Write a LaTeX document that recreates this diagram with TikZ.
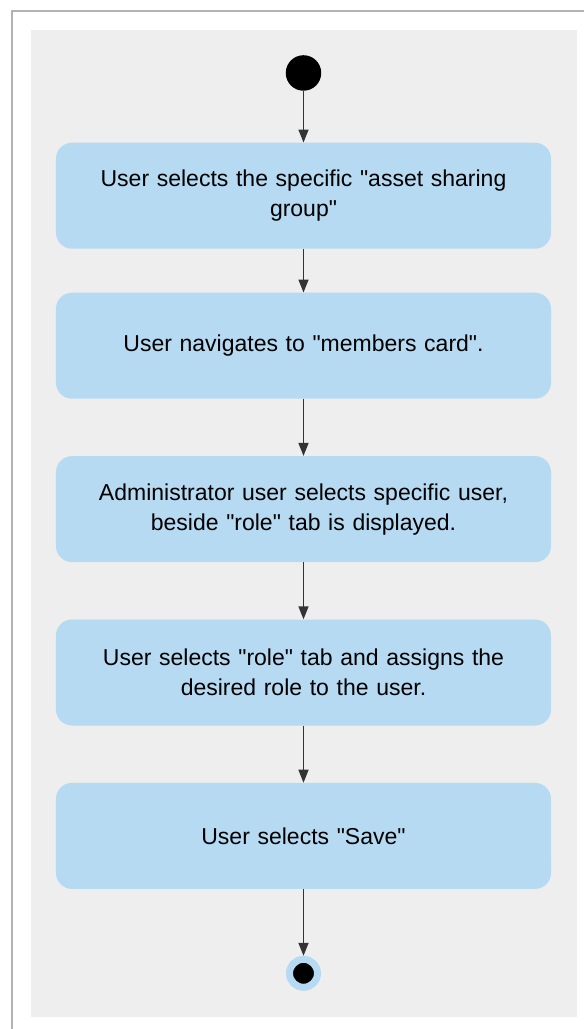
\documentclass[tikz,border=0pt]{standalone}
\usepackage{fontspec}
\setmainfont{Liberation Sans}[Ligatures=TeXOff]
\usetikzlibrary{matrix,arrows.meta,positioning}
\definecolor{actblue}{HTML}{B5DAF2}
\definecolor{lanegrey}{HTML}{EEEEEE}
\definecolor{flowgrey}{HTML}{333333}

\begin{document}
\begin{tikzpicture}[x=1pt,y=1pt,
				act boxes/.style={draw=none, rectangle,%
                fill=actblue, rounded corners=16pt,
                minimum height=106pt, minimum width=495pt,
                text width=460pt, inner sep=0pt, text=black,
                anchor=center, align=center,
                font=\fontsize{23}{30}\selectfont},
    			% Define styles for the start and end dots
   				start dot/.style={circle, fill=black, minimum size=35.5pt, inner sep=0pt, anchor=center},
    			end dot/.style={circle, fill=black, draw=actblue, line width=7pt, minimum size=28pt, inner sep=0pt, anchor=center},
    			flow/.style={draw=flowgrey, line width=1.5pt, -{Triangle[length=13pt,width=10pt]}}
    			]
\useasboundingbox (0,0) rectangle (584,-1029);

%% Frame and grey panel
\fill[black!30] (10.5,-10) rectangle (600,-1040);
\fill[white] (12.5,-11.5) rectangle (600,-1040);
\fill[lanegrey] (31,-30) rectangle (577,-1016.5);

  \matrix (mat) [matrix of nodes, row sep=57.4pt, inner sep=0pt, anchor=north] at (303.5,-55)
  {
    |[start dot]| {} \\[-5.4pt]
    |[act boxes]| {User selects the specific "asset sharing\\group"} \\[-13.4pt]
    |[act boxes]| {User navigates to "members card".} \\
    |[act boxes]| {Administrator user selects specific user,\\beside "role" tab is displayed.} \\
    |[act boxes]| {User selects "role" tab and assigns the\\desired role to the user.} \\
    |[act boxes]| {User selects "Save"} \\[9.5pt]
    |[end dot]| {} \\
  };

%% Node ordering: [row- column]
%% Start to first step
\draw [flow](mat-1-1)--(mat-2-1);
%%
%%%%% Steps
\draw [flow](mat-2-1)--(mat-3-1);
\draw [flow](mat-3-1)--(mat-4-1);
\draw [flow](mat-4-1)--(mat-5-1);
\draw [flow](mat-5-1)--(mat-6-1);
%%
%%%% Last step to end
\draw [flow](mat-6-1)--(mat-7-1);

\end{tikzpicture}
\end{document}
